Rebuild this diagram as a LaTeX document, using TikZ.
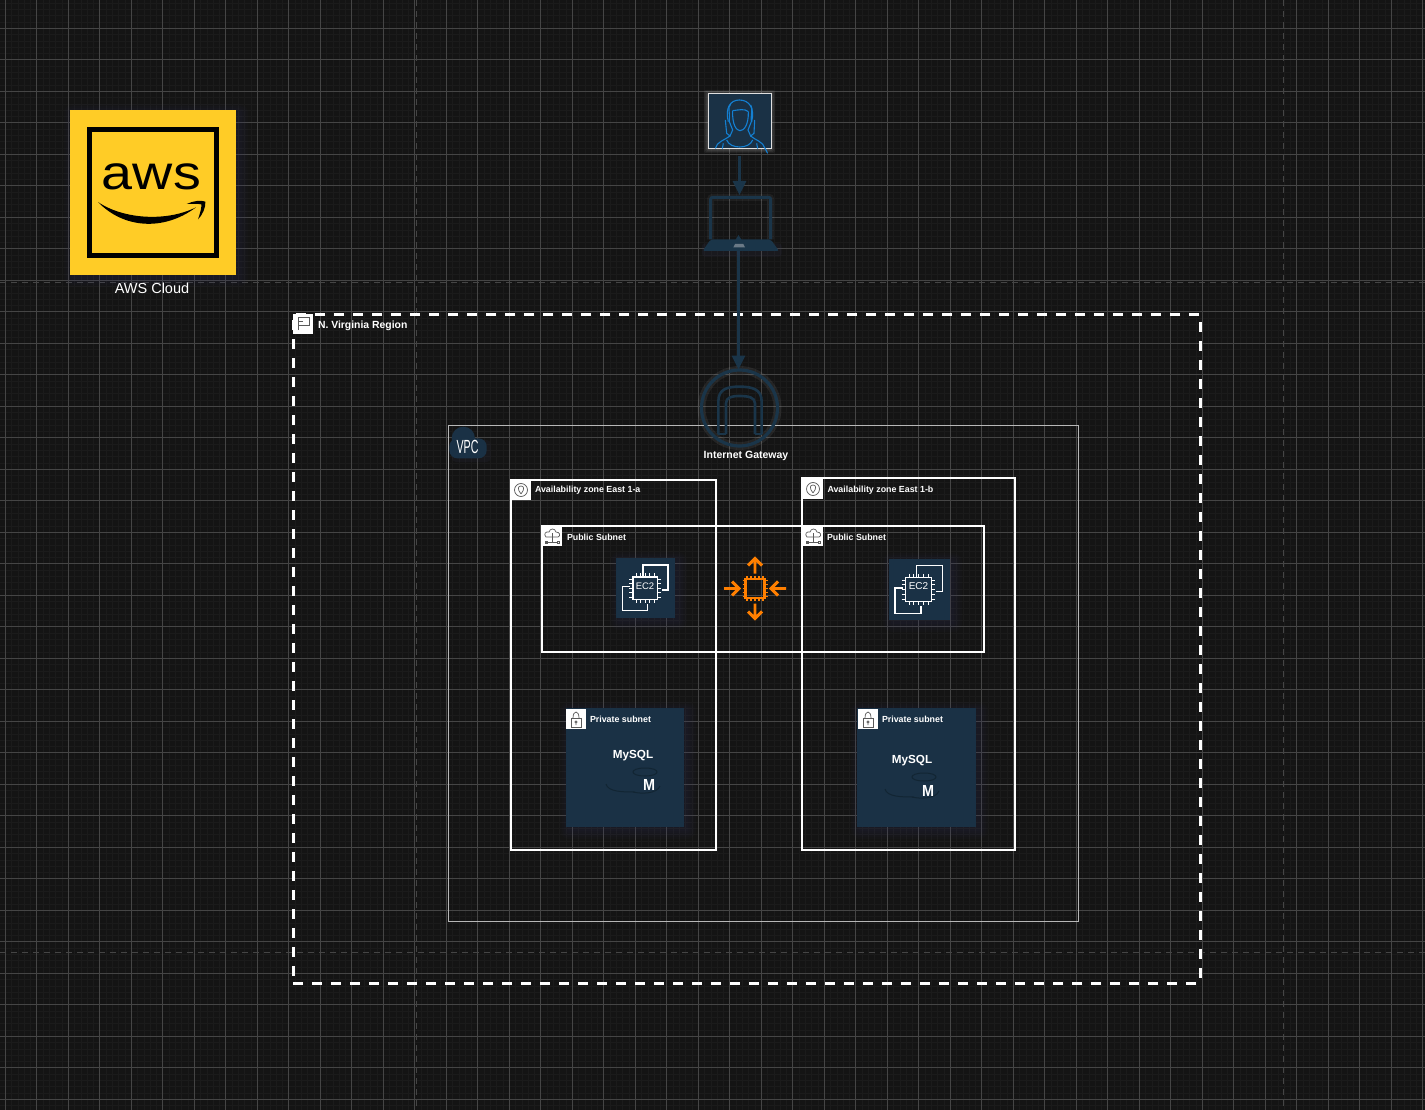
\documentclass[tikz,border=0pt]{standalone}
\usepackage{fontspec}
\setmainfont{Liberation Sans}
\usetikzlibrary{arrows.meta,calc}
\definecolor{bg}{HTML}{141414}
\definecolor{gridmaj}{HTML}{454545}
\definecolor{gridmin}{HTML}{1B1B1B}
\definecolor{navy}{HTML}{1A3145}
\definecolor{navyline}{HTML}{1A3549}
\definecolor{awsyellow}{HTML}{FFCC26}
\definecolor{person}{HTML}{1480D2}
\definecolor{orangeic}{HTML}{FF7F00}
\definecolor{iconline}{HTML}{5A5A5A}
\definecolor{halo}{HTML}{3A3A5C}
\newcommand{\haloat}[4]{% x1,y1,x2,y2 soft halo, offset down-right
  \foreach \hi in {1,3,5,7,9}{
    \fill[halo,opacity=.05,rounded corners=\hi pt]
      ($(#1+3-\hi,#2+3-\hi)$) rectangle ($(#3+3+\hi,#4+3+\hi)$);}}
\newcommand{\ecicon}[3]{% centre x, y, scale
  \begin{scope}[shift={(#1,#2)},scale=#3,line width=1.3pt,draw=white]
    \draw (-2,-11.5) -- (-2,-23) -- (23,-23) -- (23,2) -- (16.5,2);
    \draw (-15,-1.3) -- (-22.3,-1.3) -- (-22.3,22.7) -- (2.3,22.7) -- (2.3,16);
    \draw[fill=navy,line width=1.6pt] (-12.3,-11.3) rectangle (12.3,11.3);
    \foreach \pp in {-9,-4.5,0,4.5,9}{
      \draw[line width=.9pt] (\pp,-15) -- (\pp,-11.3) (\pp,11.3) -- (\pp,15)
        (-16,\pp) -- (-12.3,\pp) (12.3,\pp) -- (16,\pp);}
  \end{scope}}
\newcommand{\cyl}[2]{%
  \begin{scope}[shift={(#1,#2)},draw=navyline!70!black,line width=1pt]
    \draw (24,-23) .. controls (8,-23) and (8,-15) .. (24,-15) .. controls (40,-15) and (40,-23) .. (24,-23);
    \draw (-15,-7) .. controls (-13,1) and (2,1) .. (14,1);
    \draw (12,1) .. controls (20,3) and (36,3) .. (39,-5);
  \end{scope}}
\tikzset{
  x=1pt,y=-1pt,
  every node/.style={outer sep=0pt},
  box/.style={draw=white,line width=2pt,inner sep=0pt,anchor=north west},
  tag/.style={fill=white,draw=none,inner sep=0pt,minimum width=20pt,minimum height=20pt,anchor=north west},
  lbl/.style={text=white,font=\fontsize{8.85}{10}\selectfont\bfseries,anchor=west,inner sep=0pt},
  glyph/.style={draw=iconline,line width=.7pt},
  link/.style={draw=navyline,line width=3pt,-{Triangle[width=13pt,length=14pt]}},
  ghost/.style={draw=none,fill=none,inner sep=0pt},
  panel/.style={fill=navy,draw=none,inner sep=0pt,anchor=north west}
}
\begin{document}
\begin{tikzpicture}
\useasboundingbox (0,0) rectangle (1425,1110);
\fill[bg] (0,0) rectangle (1425,1110);
% grid
\foreach \i in {0,...,226}{
  \draw[gridmin,line width=.7pt] ({-1+6.3*\i},0) -- ({-1+6.3*\i},1110);}
\foreach \i in {0,...,177}{
  \draw[gridmin,line width=.7pt] (0,{3.1+6.3*\i}) -- (1425,{3.1+6.3*\i});}
\foreach \i in {0,...,45}{
  \draw[gridmaj,line width=.8pt] ({5.3+31.5*\i},0) -- ({5.3+31.5*\i},1110);}
\foreach \i in {-1,0,...,35}{
  \draw[gridmaj,line width=.8pt] (0,{28.3+31.5*\i}) -- (1425,{28.3+31.5*\i});}
% page breaks
\foreach \xx in {416,1283}{\draw[gridmaj,line width=1pt,dash pattern=on 6pt off 5pt] (\xx,0) -- (\xx,1110);}
\foreach \yy in {283,952}{\draw[gridmaj,line width=1pt,dash pattern=on 6pt off 5pt] (0,\yy) -- (1425,\yy);}

% AWS logo
\haloat{70}{110}{236}{275}
\node[fill=awsyellow,inner sep=0pt,minimum width=166pt,minimum height=165pt,anchor=north west] (logo) at (70,110) {};
\draw[black,line width=5.2pt] (89.5,129.5) rectangle (216.5,255.5);
\node[ghost,text=black,font=\fontsize{48}{48}\selectfont] (awsword) at (151.5,177) {\scalebox{1.16}[1]{aws}};
\begin{scope}[shift={(60,100)},scale=1/3]
  \fill[black] (114,306) .. controls (190,385) and (310,395) .. (408,322)
     .. controls (320,366) and (190,358) .. (114,306) -- cycle;
  \fill[black] (380,312) .. controls (400,302) and (425,300) .. (436,305) .. controls (438,320) and (428,345) .. (414,358)
     .. controls (420,340) and (425,325) .. (424,313) .. controls (412,311) and (396,311) .. (380,312) -- cycle;
\end{scope}
\node[text=white,font=\fontsize{14.5}{16}\selectfont,inner sep=0pt] (awscloud) at (152,288) {AWS Cloud};

% Region
\node[box,line width=3pt,dash pattern=on 10pt off 9pt,minimum width=907pt,minimum height=669pt] (region) at (293,314) {};
\node[tag] (regiontag) at (293,314) {};
\draw[glyph] (298,330) -- (298,317) -- (309,317) -- (309,325) -- (298,325) (298,321) -- (303,321);
\node[lbl,font=\fontsize{10.4}{12}\selectfont\bfseries] (regionlbl) at (318,325.5) {N. Virginia Region};

% VPC
\node[draw=white!72!black,line width=1pt,inner sep=0pt,minimum width=630pt,minimum height=496pt,anchor=north west] (vpc) at (448,425) {};
\begin{scope}[shift={(440,360)},scale=1/3]
  \fill[halo,opacity=.12,rounded corners=4pt] (36,240) rectangle (152,306);
  \fill[navy,rounded corners=8pt] (28,235) rectangle (140,295);
  \fill[navy] (70,235) circle (35);
\end{scope}
\node[ghost,text=white,font=\fontsize{19}{20}\selectfont] (vpclbl) at (467.5,447) {\scalebox{.56}[1]{VPC}};

% Private subnets
\haloat{566}{708}{684}{827}
\haloat{857}{708}{976}{827}
\node[panel,minimum width=118pt,minimum height=119pt] (privA) at (566,708) {};
\node[panel,minimum width=119pt,minimum height=119pt] (privB) at (857,708) {};
\cyl{621}{791}
\cyl{900}{796}

% AZ boxes
\node[box,minimum width=205pt,minimum height=370pt] (azA) at (511,480) {};
\node[box,minimum width=213pt,minimum height=372pt] (azB) at (802,478) {};
% Public subnets
\node[box,minimum width=260pt,minimum height=126pt] (pubA) at (542,526) {};
\node[box,minimum width=182pt,minimum height=126pt] (pubB) at (802,526) {};

% tags
\node[tag] (azAtag) at (511,480) {};
\draw[glyph] (521,490) circle (6.5);
\draw[glyph] (521,494) .. controls (517,489) and (518,486) .. (521,486) .. controls (524,486) and (525,489) .. (521,494);
\node[lbl] (azAlbl) at (535,490.5) {Availability zone East 1-a};
\node[tag] (azBtag) at (803,479) {};
\draw[glyph] (813,489) circle (6.5);
\draw[glyph] (813,493) .. controls (809,488) and (810,485) .. (813,485) .. controls (816,485) and (817,488) .. (813,493);
\node[lbl] (azBlbl) at (827.5,490.5) {Availability zone East 1-b};
\foreach \tx/\ty in {542/526,803/526}{
  \node[tag] at (\tx,\ty) {};
  \begin{scope}[shift={(\tx,\ty)}]
    \draw[glyph] (4,11) .. controls (1,8) and (4,5) .. (7,6) .. controls (8,2) and (13,2) .. (14,6) .. controls (18,6) and (19,10) .. (16,11) -- cycle;
    \draw[glyph] (10,7) -- (10,16) (4,16) -- (16,16);
    \draw[glyph] (3,15) rectangle (5,17) (15,15) rectangle (17,17);
  \end{scope}}
\node[lbl] (pubAlbl) at (567,537) {Public Subnet};
\node[lbl] (pubBlbl) at (827,537) {Public Subnet};
\foreach \tx in {566,858}{
  \node[tag] at (\tx,709) {};
  \begin{scope}[shift={(\tx,709)}]
    \draw[glyph] (5,9) rectangle (15,18);
    \draw[glyph] (7,9) .. controls (7,1) and (13,1) .. (13,9);
    \draw[glyph] (10,13) circle (1.2) (10,14) -- (10,16);
  \end{scope}}
\node[lbl] (privAlbl) at (590,719) {Private subnet};
\node[lbl] (privBlbl) at (882,719) {Private subnet};
\node[ghost,text=white,font=\fontsize{11.7}{14}\selectfont\bfseries] (mysqlA) at (633,756) {MySQL};
\node[ghost,text=white,font=\fontsize{11.7}{14}\selectfont\bfseries] (mysqlB) at (912,761) {MySQL};
\node[ghost,text=white,font=\fontsize{16}{18}\selectfont\bfseries] (mA) at (649,785) {\scalebox{.9}[1]{M}};
\node[ghost,text=white,font=\fontsize{16}{18}\selectfont\bfseries] (mB) at (928,790.5) {\scalebox{.9}[1]{M}};

% EC2
\haloat{616}{558}{675}{618}
\haloat{889}{559}{950}{620}
\node[panel,minimum width=59pt,minimum height=60pt] (ecA) at (616,558) {};
\node[panel,minimum width=61pt,minimum height=61pt] (ecB) at (889,559) {};
\ecicon{645}{588}{1}
\ecicon{918.5}{589.5}{1.05}
\node[ghost,text=white,font=\fontsize{9.5}{10}\selectfont] (ecAlbl) at (645,586) {EC2};
\node[ghost,text=white,font=\fontsize{10}{10}\selectfont] (ecBlbl) at (918.5,586) {EC2};

% Auto scaling
\begin{scope}[shift={(755,588.5)},draw=orangeic,line width=2.9pt]
  \draw (-9.5,-9.5) rectangle (9.5,9.5);
  \foreach \pp in {-8,-4,0,4,8}{
    \draw[line width=1.1pt] (\pp,-12.5) -- (\pp,-9.5) (\pp,9.5) -- (\pp,12.5)
      (-12.5,\pp) -- (-9.5,\pp) (9.5,\pp) -- (12.5,\pp);}
  \draw (0,-15) -- (0,-30) (-7,-23) -- (0,-30) -- (7,-23);
  \draw (0,15) -- (0,30) (-7,23) -- (0,30) -- (7,23);
  \draw (-31,0) -- (-16,0) (-23,-7) -- (-16,0) -- (-23,7);
  \draw (31,0) -- (16,0) (23,-7) -- (16,0) -- (23,7);
\end{scope}

% user
\foreach \hi in {1,2,3,4}{\fill[white,opacity=.06,rounded corners=2pt] (708-\hi,94-\hi) rectangle (771+\hi,149+\hi);}
\node[fill=navy,draw=white!88!black,line width=1pt,inner sep=0pt,minimum width=63pt,minimum height=55pt,anchor=north west] (user) at (708,94) {};
\begin{scope}[shift={(680,80)},scale=1/3,draw=person,line width=1.1pt]
  \draw (158,92) .. controls (156,135) and (170,152) .. (180,152) .. controls (192,152) and (206,135) .. (205,95);
  \draw (158,92) .. controls (175,90) and (195,85) .. (205,95);
  \draw (145,125) .. controls (135,85) and (150,60) .. (178,60) .. controls (208,60) and (225,85) .. (215,125);
  \draw (152,72) .. controls (142,85) and (150,90) .. (148,125) -- (158,150) -- (150,168) -- (140,160) -- (136,120);
  \draw (212,75) .. controls (220,90) and (212,95) .. (214,125) -- (204,150) -- (212,168) -- (222,160) -- (224,120);
  \draw (106,205) .. controls (110,185) and (135,180) .. (150,168);
  \draw (255,205) .. controls (250,185) and (225,180) .. (212,168) ;
  \draw (255,205) -- (263,220);
  \draw (140,180) .. controls (150,208) and (208,208) .. (218,180);
  \draw (130,190) -- (127,206) (230,190) -- (233,206);
\end{scope}

% laptop (body drawn under connectors' heads)
\node[ghost,minimum width=76pt,minimum height=54pt,anchor=north west] (laptop) at (703,197) {};
\coordinate (laptopTop) at (739.5,195);
\coordinate (laptopIn) at (738.5,235);
\coordinate (userOut) at (739.5,156);
\draw[link] (userOut) -- (laptopTop);

% gateway
\node[ghost,minimum size=77pt,circle] (igw) at (739.5,408) {};
\draw[white,opacity=.07,line width=8pt] (igw) circle (38);
\draw[navyline,line width=3.2pt] (igw) circle (38);
\begin{scope}[shift={(440,360)},scale=1/3,draw=navyline,line width=2.6pt]
  \draw (835,222) -- (835,125) .. controls (835,88) and (860,80) .. (898,80) .. controls (938,80) and (965,88) .. (965,125) -- (965,222);
  \draw (858,222) -- (858,130) .. controls (858,112) and (875,108) .. (898,108) .. controls (925,108) and (945,112) .. (945,130) -- (945,222);
  \draw (835,222) -- (858,222) (945,222) -- (965,222);
\end{scope}
\node[ghost,text=white,font=\fontsize{10.5}{12}\selectfont\bfseries] (igwlbl) at (746,456) {Internet Gateway};

\draw[draw=navyline,line width=2.6pt,{Triangle[width=7pt,length=6pt]}-{Triangle[width=13pt,length=14pt]}] (laptopIn) -- (738.5,369.5);

\begin{scope}[shift={(680,80)},scale=1/3]
  \fill[halo,opacity=.15,rounded corners=3pt] (66,490) rectangle (305,530);
  \draw[white,opacity=.05,line width=7pt,rounded corners=2pt] (92,478) -- (92,352) -- (272,352) -- (272,478);
  \draw[navyline,line width=3pt,rounded corners=2pt] (92,478) -- (92,352) -- (272,352) -- (272,478);
  \fill[navyline,rounded corners=2pt] (92,478) -- (272,478) -- (297,513) -- (68,513) -- cycle;
  \fill[white!35!navy] (160,502) -- (165,492) -- (190,492) -- (195,502) -- cycle;
\end{scope}
\end{tikzpicture}
\end{document}
